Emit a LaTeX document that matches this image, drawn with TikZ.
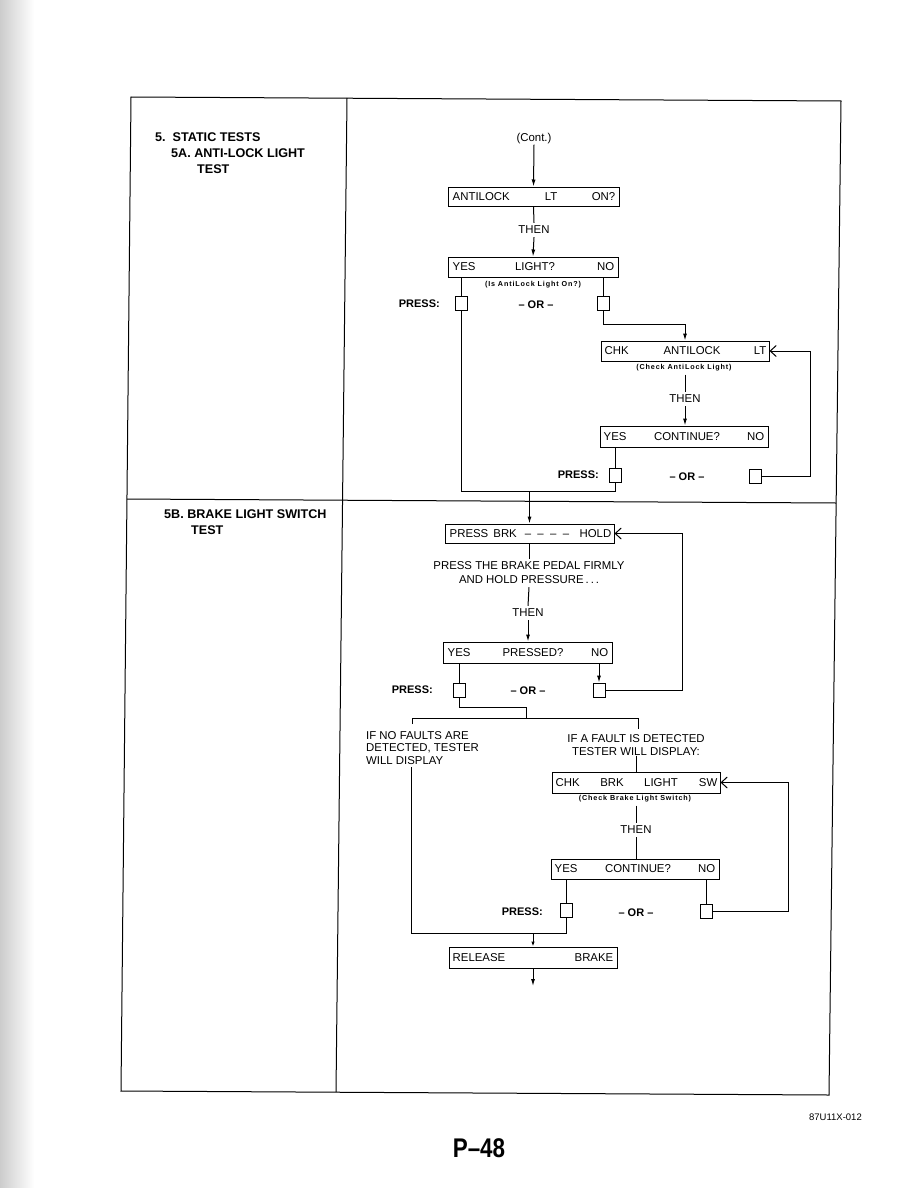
\documentclass[tikz,border=0pt]{standalone}
\usepackage{fontspec}
\setmainfont{Liberation Sans}
\newfontfamily\smallsp[LetterSpace=12]{Liberation Sans}
\usetikzlibrary{arrows.meta}
\begin{document}
\begin{tikzpicture}[x=1pt,y=-1pt,
  ln/.style={line width=1pt},
  frame/.style={line width=1pt},
  box/.style={draw, line width=1pt, inner sep=0pt},
  sq/.style={draw, line width=0.9pt, inner sep=0pt, minimum width=12pt, minimum height=14pt},
  bt/.style={font=\fontsize{11.4}{12.5}\selectfont, inner sep=0pt},
  th/.style={font=\fontsize{11.4}{12}\selectfont, inner sep=3pt},
  sm/.style={font=\smallsp\bfseries\fontsize{7.2}{8}\selectfont, inner sep=3pt},
  hd/.style={font=\bfseries\fontsize{12.6}{14}\selectfont, inner sep=0pt, anchor=west},
  pr/.style={font=\bfseries\fontsize{11}{12}\selectfont, inner sep=0pt},
  arr/.style={-{Latex[length=7pt,width=4pt]}, line width=1pt},
  sarr/.style={-{Latex[length=5pt,width=3.5pt]}, line width=1pt},
  oarr/.style={-{Straight Barb[length=6pt,width=11pt]}, line width=1pt},
]
\useasboundingbox (0,0) rectangle (918,1188);
\fill[left color=gray!40, right color=white] (0,0) rectangle (34,1188);

% ---------- frame ----------
\coordinate (TL) at (131,97);
\coordinate (TD) at (347,98);
\coordinate (TR) at (841,101);
\coordinate (ML) at (127,499);
\coordinate (MR) at (836,503);
\coordinate (BL) at (121,1091);
\coordinate (BD) at (336,1092);
\coordinate (BR) at (829,1095);
\draw[frame] (TL) -- (TR) -- (BR) -- (BL) -- cycle;
\draw[frame] (TD) -- (BD);
\draw[frame] (ML) -- (MR);

% ---------- headings ----------
\node[hd] (h5)   at (155,137) {5.\ \ STATIC TESTS};
\node[hd] (h5a)  at (171,153) {5A.\ ANTI-LOCK LIGHT};
\node[hd] (h5a2) at (197,169) {TEST};
\node[hd] (h5b)  at (164,514) {5B.\ BRAKE LIGHT SWITCH};
\node[hd] (h5b2) at (191,530) {TEST};

% ---------- 5A flow ----------
\node[bt] (cont) at (534,139) {(Cont.)};

\node[box, minimum width=171pt, minimum height=19pt] (b1) at (533.5,196.5) {};
\node[bt, anchor=west] (b1a) at ([xshift=5pt]b1.west) {ANTILOCK};
\node[bt] (b1b) at (551,196.5) {LT};
\node[bt, anchor=east] (b1c) at ([xshift=-4pt]b1.east) {ON?};

\node[th] (then1) at (534,230) {THEN};

\node[box, minimum width=170pt, minimum height=20pt] (b2) at (533,267) {};
\node[bt, anchor=west] (b2a) at ([xshift=5pt]b2.west) {YES};
\node[bt] (b2b) at (535,267) {LIGHT?};
\node[bt, anchor=east] (b2c) at ([xshift=-4pt]b2.east) {NO};
\node[sm] (s2) at (533,285) {(Is AntiLock Light On?)};

\node[sq] (sq2y) at (461.5,303.5) {};
\node[sq] (sq2n) at (603.5,303.5) {};
\node[pr, anchor=east] (pr2) at (440,304) {PRESS:};
\node[pr] (or2) at (536,304.5) {– OR –};

\node[box, minimum width=168pt, minimum height=20pt] (b3) at (685,351) {};
\node[bt, anchor=west] (b3a) at ([xshift=4pt]b3.west) {CHK};
\node[bt] (b3b) at (692,351) {ANTILOCK};
\node[bt, anchor=east] (b3c) at ([xshift=-3pt]b3.east) {LT};
\node[sm] (s3) at (684,368) {(Check AntiLock Light)};

\node[th] (then3) at (685,399) {THEN};

\node[box, minimum width=168pt, minimum height=21pt] (b4) at (684,436.5) {};
\node[bt, anchor=west] (b4a) at ([xshift=4pt]b4.west) {YES};
\node[bt] (b4b) at (687,436.5) {CONTINUE?};
\node[bt, anchor=east] (b4c) at ([xshift=-4pt]b4.east) {NO};

\node[sq] (sq4y) at (615,475) {};
\node[sq] (sq4n) at (755,476) {};
\node[pr, anchor=east] (pr4) at (599,475) {PRESS:};
\node[pr] (or4) at (687,476.5) {– OR –};

\coordinate (l1) at (810,476);
\coordinate (j1) at (529.5,491);

\draw[arr] (cont.south) -- (b1.north);
\draw[ln] (b1.south) -- (then1.north);
\draw[arr] (then1.south) -- (b2.north);
\draw[ln] (b2.south -| sq2y) -- (sq2y.north);
\draw[ln] (b2.south -| sq2n) -- (sq2n.north);
\draw[arr] (sq2n.south) -- ++(0,14) -| (b3.north);
\draw[ln] (s3.south -| then3) -- (then3.north);
\draw[arr] (then3.south) -- (b4.north -| then3);
\draw[ln] (b4.south -| sq4y) -- (sq4y.north);
\draw[oarr] (sq4n.east) -- (l1) |- (b3.east);
\draw[ln] (sq2y.south) |- (sq4y.south |- j1) -- (sq4y.south);

% ---------- 5B flow ----------
\node[box, minimum width=169pt, minimum height=19pt] (b5) at (529.5,533.5) {};
\node[bt, anchor=west] (b5a) at ([xshift=5pt]b5.west) {PRESS\, BRK};
\node[bt, anchor=base] (b5b) at (547,537.6) {–\ \ –\ \ –\ \ –};
\node[bt, anchor=east] (b5c) at ([xshift=-3pt]b5.east) {HOLD};

\node[bt, inner sep=3pt] (t5a) at (529,566) {PRESS THE BRAKE PEDAL FIRMLY};
\node[bt, inner sep=3pt] (t5b) at (529,580) {AND HOLD PRESSURE\,.\,.\,.};
\node[th] (then5) at (528,613) {THEN};

\node[box, minimum width=169pt, minimum height=21pt] (b6) at (527.5,652.5) {};
\node[bt, anchor=west] (b6a) at ([xshift=5pt]b6.west) {YES};
\node[bt] (b6b) at (533,652.5) {PRESSED?};
\node[bt, anchor=east] (b6c) at ([xshift=-4pt]b6.east) {NO};

\node[sq] (sq6y) at (459,690) {};
\node[sq] (sq6n) at (599,690) {};
\node[pr, anchor=east] (pr6) at (433,690) {PRESS:};
\node[pr] (or6) at (528,691) {– OR –};

\coordinate (l2) at (682,690);
\coordinate (j2) at (526,707);
\coordinate (j3) at (526,718);
\coordinate (j4) at (412,724);
\coordinate (j5) at (638,729);

\node[bt, align=left, anchor=north west, font=\fontsize{11.4}{12.6}\selectfont] (tl) at (366,731) {IF NO FAULTS ARE\\DETECTED, TESTER\\WILL DISPLAY};
\node[bt, align=center, font=\fontsize{11.4}{13}\selectfont] (tr) at (636,745) {IF A FAULT IS DETECTED\\TESTER WILL DISPLAY:};

\node[box, minimum width=168pt, minimum height=21pt] (b7) at (636,782.5) {};
\node[bt, anchor=west] (b7a) at ([xshift=4pt]b7.west) {CHK};
\node[bt] (b7b) at (612,782.5) {BRK};
\node[bt] (b7c) at (661,782.5) {LIGHT};
\node[bt, anchor=east] (b7d) at ([xshift=-3pt]b7.east) {SW};
\node[sm] (s7) at (635,799) {(Check Brake Light Switch)};

\node[th] (then7) at (636,830) {THEN};

\node[box, minimum width=168pt, minimum height=20pt] (b8) at (635,869) {};
\node[bt, anchor=west] (b8a) at ([xshift=4pt]b8.west) {YES};
\node[bt] (b8b) at (638,869) {CONTINUE?};
\node[bt, anchor=east] (b8c) at ([xshift=-4pt]b8.east) {NO};

\node[sq] (sq8y) at (566,910) {};
\node[sq] (sq8n) at (706,911) {};
\node[pr, anchor=east] (pr8) at (543,912) {PRESS:};
\node[pr] (or8) at (636,913) {– OR –};

\coordinate (l3) at (788,911);
\coordinate (j6) at (411,767);
\coordinate (j8) at (411,933);
\coordinate (j7) at (533,933);

\node[box, minimum width=168pt, minimum height=21pt] (b9) at (533,957.5) {};
\node[bt, anchor=west] (b9a) at ([xshift=4pt]b9.west) {RELEASE};
\node[bt, anchor=east] (b9b) at ([xshift=-4pt]b9.east) {BRAKE};
\coordinate (endA) at (533,986);

\draw[arr] (j1) -- (b5.north |- j1) -- (b5.north);
\draw[ln] (b5.south -| t5a) -- (t5a.north);
\draw[ln] (t5b.south) -- (then5.north);
\draw[arr] (then5.south) -- (b6.north -| then5);
\draw[ln] (b6.south -| sq6y) -- (sq6y.north);
\draw[arr] (b6.south -| sq6n) -- (sq6n.north);
\draw[oarr] (sq6n.east) -- (l2) |- (b5.east);
\draw[ln] (sq6y.south) |- (j2) -- (j3);
\draw[ln] (j4) -- (j4 |- j3) -- (j5 |- j3) -- (j5);
\draw[ln] (tr.south -| b7.north) -- (b7.north);
\draw[ln] (s7.south -| then7) -- (then7.north);
\draw[ln] (then7.south) -- (b8.north -| then7);
\draw[ln] (b8.south -| sq8y) -- (sq8y.north);
\draw[ln] (b8.south -| sq8n) -- (sq8n.north);
\draw[oarr] (sq8n.east) -- (l3) |- (b7.east);
\draw[ln] (j6) -- (j8) -| (sq8y.south);
\draw[sarr] (j7) -- (b9.north);
\draw[arr] (b9.south) -- (endA);

% ---------- footer ----------
\node[font=\fontsize{9.5}{10}\selectfont, anchor=east, inner sep=0pt] (code) at (862,1117) {87U11X-012};
\node[font=\bfseries\fontsize{27}{28}\selectfont, xscale=0.83, inner sep=0pt] (pg) at (479,1148) {P–48};
\end{tikzpicture}
\end{document}
